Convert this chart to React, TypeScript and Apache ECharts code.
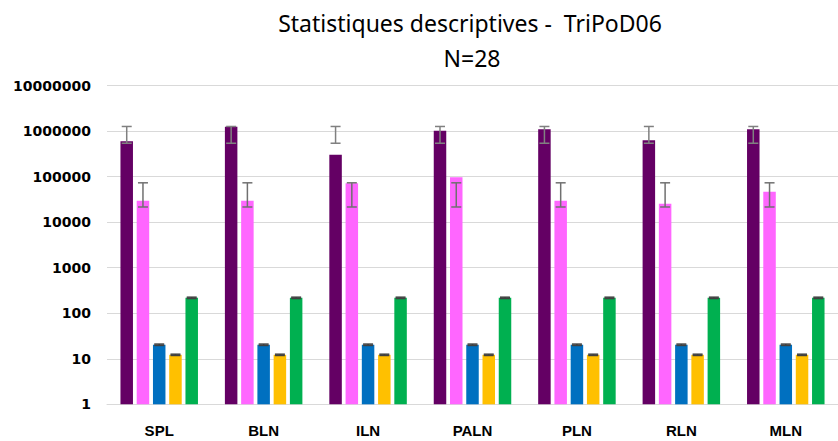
import React, { useEffect, useRef } from "react";
import * as echarts from "echarts";

const categories = ["SPL", "BLN", "ILN", "PALN", "PLN", "RLN", "MLN"];

const purpleValues = [600000, 1250000, 300000, 1020000, 1100000, 630000, 1100000];
const purpleLow = [540000, 540000, 540000, 540000, 540000, 540000, 540000];
const purpleHigh = [1260000, 1260000, 1260000, 1260000, 1260000, 1260000, 1260000];

const pinkValues = [29600, 29600, 71000, 96600, 29600, 25400, 46600];
const pinkLow = [21500, 21500, 21500, 21500, 21500, 21500, 21500];
const pinkHigh = [73000, 73000, 73000, 73000, 73000, 73000, 73000];

const blueValues = [20.3, 20.3, 20.3, 20.3, 20.3, 20.3, 20.3];
const blueLow = [19.6, 19.6, 19.6, 19.6, 19.6, 19.6, 19.6];
const blueHigh = [21.0, 21.0, 21.0, 21.0, 21.0, 21.0, 21.0];

const yellowValues = [12.2, 12.2, 12.2, 12.2, 12.2, 12.2, 12.2];
const yellowLow = [11.8, 11.8, 11.8, 11.8, 11.8, 11.8, 11.8];
const yellowHigh = [12.6, 12.6, 12.6, 12.6, 12.6, 12.6, 12.6];

const greenValues = [218, 218, 218, 218, 218, 218, 218];
const greenLow = [210, 210, 210, 210, 210, 210, 210];
const greenHigh = [225, 225, 225, 225, 225, 225, 225];

const yTicks = [1, 10, 100, 1000, 10000, 100000, 1000000, 10000000];

const titleLine1 = "Statistiques descriptives -  TriPoD06";
const titleLine2 = "N=28";

const seriesDefs = [
  { name: "A", color: "#640064", values: purpleValues, low: purpleLow, high: purpleHigh, err: "#808080" },
  { name: "B", color: "#FF66FF", values: pinkValues, low: pinkLow, high: pinkHigh, err: "#707070" },
  { name: "C", color: "#0070C0", values: blueValues, low: blueLow, high: blueHigh, err: "#404040" },
  { name: "D", color: "#FFC000", values: yellowValues, low: yellowLow, high: yellowHigh, err: "#404040" },
  { name: "E", color: "#00B050", values: greenValues, low: greenLow, high: greenHigh, err: "#404040" },
];

const BAR_W = 12.5;
const BAR_GAP = 0.3;

export default function App() {
  const ref = useRef<HTMLDivElement>(null);

  useEffect(() => {
    if (!ref.current) return;
    const chart = echarts.init(ref.current, null, { renderer: "svg" });
    const step = BAR_W * (1 + BAR_GAP);
    const n = seriesDefs.length;

    const bars = seriesDefs.map((s) => ({
      type: "bar",
      name: s.name,
      data: s.values,
      barWidth: BAR_W,
      barGap: BAR_GAP * 100 + "%",
      itemStyle: { color: s.color },
      z: 2,
    }));

    const errs = seriesDefs.map((s, i) => ({
      type: "custom",
      name: s.name + "_err",
      data: categories.map((_, k) => [k, s.low[k], s.high[k]]),
      encode: { x: 0, y: [1, 2] },
      z: 5,
      silent: true,
      renderItem: (params: any, api: any) => {
        const idx = api.value(0);
        const lo = api.value(1);
        const hi = api.value(2);
        const pLo = api.coord([idx, lo]);
        const pHi = api.coord([idx, hi]);
        const x = pLo[0] + (i - (n - 1) / 2) * step;
        const half = 5;
        const style = { stroke: s.err, lineWidth: 1.5, fill: "none" };
        return {
          type: "group",
          children: [
            { type: "line", shape: { x1: x, y1: pLo[1], x2: x, y2: pHi[1] }, style },
            { type: "line", shape: { x1: x - half, y1: pHi[1], x2: x + half, y2: pHi[1] }, style },
            { type: "line", shape: { x1: x - half, y1: pLo[1], x2: x + half, y2: pLo[1] }, style },
          ],
        };
      },
    }));

    chart.setOption({
      animation: false,
      backgroundColor: "#ffffff",
      grid: { left: 107, top: 85.5, width: 743, bottom: 36.7, containLabel: false },
      graphic: [
        {
          type: "text",
          x: 470,
          y: 23,
          style: {
            text: titleLine1,
            font: "23px 'Noto Sans'",
            fill: "#000",
            textAlign: "center",
            textVerticalAlign: "middle",
          },
        },
        {
          type: "text",
          x: 472,
          y: 58,
          style: {
            text: titleLine2,
            font: "23px 'Noto Sans'",
            fill: "#000",
            textAlign: "center",
            textVerticalAlign: "middle",
          },
        },
      ],
      xAxis: {
        type: "category",
        data: categories,
        axisLine: { lineStyle: { color: "#d9d9d9" } },
        axisTick: { show: false },
        axisLabel: {
          margin: 19,
          color: "#000",
          fontFamily: "'Liberation Sans'",
          fontWeight: "bold",
          fontSize: 15,
        },
      },
      yAxis: {
        type: "log",
        logBase: 10,
        min: yTicks[0],
        max: yTicks[yTicks.length - 1],
        interval: 1,
        axisLine: { show: false },
        axisTick: { show: false },
        splitLine: { lineStyle: { color: "#d9d9d9", width: 1 } },
        axisLabel: {
          margin: 16,
          color: "#000",
          fontFamily: "'DejaVu Sans'",
          fontWeight: "bold",
          fontSize: 14,
          formatter: (v: number) => String(Math.round(v)),
        },
      },
      series: [...bars, ...errs],
    });
    return () => chart.dispose();
  }, []);

  return (
    <div
      ref={ref}
      style={{ position: "fixed", left: 0, top: 0, width: 838, height: 441 }}
    />
  );
}
